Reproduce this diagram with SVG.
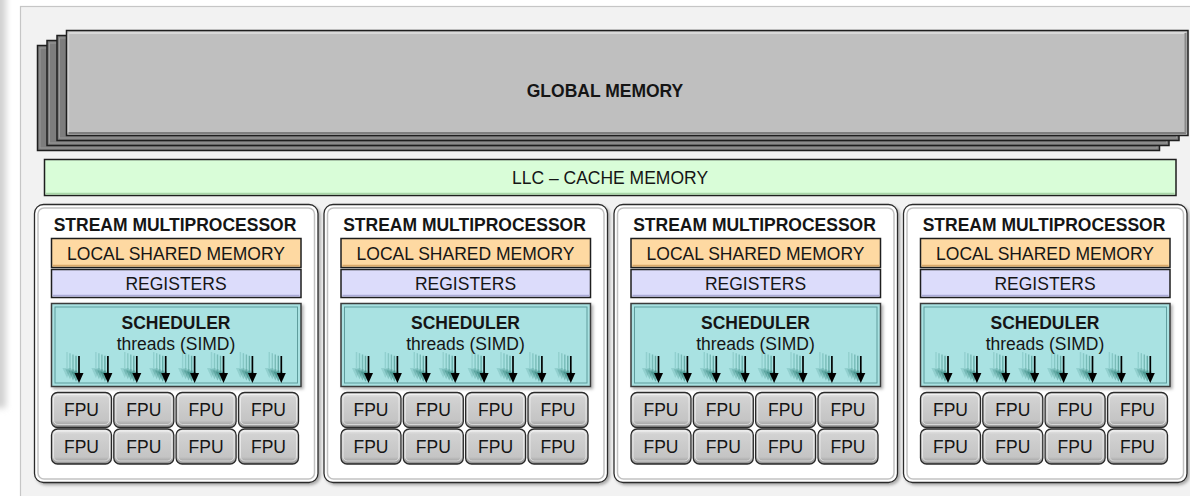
<svg xmlns="http://www.w3.org/2000/svg" xmlns:xlink="http://www.w3.org/1999/xlink" width="1190" height="496" viewBox="0 0 1190 496">
  <defs>
    <style>
      .t { font-family: "Liberation Sans", Arial, sans-serif; font-size: 17.5px; fill: #151515; text-anchor: middle; }
      .b { font-weight: bold; }
      .edge { stroke: #1e1e1e; stroke-width: 1.5; }
      .layer { fill: #7d7d7d; stroke: #1e1e1e; stroke-width: 1.5; }
      .sm-out { fill: #ffffff; stroke: #2a2a2a; stroke-width: 1.3; }
      .sm-in { fill: none; stroke: #c2c2c2; stroke-width: 1.5; }
      .lsm { fill: #fed9a2; stroke: #1e1e1e; stroke-width: 1.5; }
      .reg { fill: #dcdcfb; stroke: #1e1e1e; stroke-width: 1.5; }
      .sch { fill: #a9e2e2; stroke: #3a3a3a; stroke-width: 1.5; }
    </style>
    <filter id="soft" x="-50%" y="-50%" width="200%" height="200%">
      <feGaussianBlur stdDeviation="0.6"/>
    </filter>
    <filter id="haze" x="-100%" y="-10%" width="300%" height="120%">
      <feGaussianBlur stdDeviation="3"/>
    </filter>
    <filter id="shadow" x="-5%" y="-5%" width="110%" height="115%">
      <feDropShadow dx="2" dy="2" stdDeviation="1.5" flood-color="#000" flood-opacity="0.3"/>
    </filter>
    <linearGradient id="fpuG" x1="0" y1="0" x2="0" y2="1">
      <stop offset="0" stop-color="#ececec"/>
      <stop offset="0.15" stop-color="#d2d2d2"/>
      <stop offset="0.8" stop-color="#c4c4c4"/>
      <stop offset="1" stop-color="#8e8e8e"/>
    </linearGradient>
    <!-- one thread arrow with its motion trail; tip at the origin -->
    <g id="arr">
      <g filter="url(#soft)" stroke="#2f8078" fill="#2f8078" stroke-width="1.4">
        <g opacity="0.18" transform="translate(-12,-5)"><path d="M0,-26 V-8" fill="none"/><path d="M-4.5,-10 L4.5,-10 L0,0Z" stroke="none"/></g>
        <g opacity="0.28" transform="translate(-9,-3.8)"><path d="M0,-26 V-8" fill="none"/><path d="M-4.5,-10 L4.5,-10 L0,0Z" stroke="none"/></g>
        <g opacity="0.4" transform="translate(-6,-2.5)"><path d="M0,-26 V-8" fill="none"/><path d="M-4.5,-10 L4.5,-10 L0,0Z" stroke="none"/></g>
        <g opacity="0.55" transform="translate(-3,-1.2)"><path d="M0,-26 V-8" fill="none"/><path d="M-4.5,-10 L4.5,-10 L0,0Z" stroke="none"/></g>
      </g>
      <path d="M0,-27 V-8" stroke="#000" stroke-width="1.7"/>
      <path d="M-4.5,-10 L4.5,-10 L0,0Z" fill="#000"/>
    </g>
    <g id="arrowRow">
      <use xlink:href="#arr" x="79" y="383"/>
      <use xlink:href="#arr" x="107.9" y="383"/>
      <use xlink:href="#arr" x="136.8" y="383"/>
      <use xlink:href="#arr" x="165.7" y="383"/>
      <use xlink:href="#arr" x="194.6" y="383"/>
      <use xlink:href="#arr" x="223.5" y="383"/>
      <use xlink:href="#arr" x="252.4" y="383"/>
      <use xlink:href="#arr" x="281.3" y="383"/>
    </g>
    <!-- bevelled FPU cell -->
    <g id="fpu">
      <rect x="0.5" y="0.5" width="60" height="35" rx="6" fill="url(#fpuG)" stroke="#2a2a2a" stroke-width="1.3"/>
      <rect x="2.5" y="2.5" width="56" height="30" rx="4.5" fill="none" stroke="#ffffff" stroke-opacity="0.55"/>
    </g>
    <g id="fpuGrid">
      <use xlink:href="#fpu" x="51" y="392"/>
      <use xlink:href="#fpu" x="113.3" y="392"/>
      <use xlink:href="#fpu" x="175.6" y="392"/>
      <use xlink:href="#fpu" x="238" y="392"/>
      <use xlink:href="#fpu" x="51" y="428.5"/>
      <use xlink:href="#fpu" x="113.3" y="428.5"/>
      <use xlink:href="#fpu" x="175.6" y="428.5"/>
      <use xlink:href="#fpu" x="238" y="428.5"/>
    </g>
  </defs>

  <rect width="1190" height="496" fill="#ffffff"/>
  <!-- soft grey strip on the far left -->
  <rect x="-8" y="-10" width="14" height="418" fill="#d2d2d2" filter="url(#haze)"/>
  <!-- background panel -->
  <rect x="20.5" y="6.5" width="1190" height="500" fill="#f2f2f2" stroke="#c6c6c6" stroke-width="1.2"/>

  <!-- global memory: stacked banks -->
  <g id="global-memory">
    <rect class="layer" x="37.5" y="45.5" width="1122" height="105"/>
    <rect x="40" y="48" width="1117" height="100" fill="none" stroke="#9a9a9a" stroke-width="1"/>
    <rect class="layer" x="47" y="40.5" width="1122" height="105"/>
    <rect x="49.5" y="43" width="1117" height="100" fill="none" stroke="#9a9a9a" stroke-width="1"/>
    <rect class="layer" x="57" y="35.5" width="1122" height="105"/>
    <rect x="59.5" y="38" width="1117" height="100" fill="none" stroke="#9a9a9a" stroke-width="1"/>
    <rect x="66.5" y="30.5" width="1121.5" height="105" fill="#bfbfbf" class="edge"/>
    <path d="M68.5,33 H1185.5" stroke="#d8d8d8" stroke-width="2.2"/>
    <path d="M68.5,33 V133" stroke="#cfcfcf" stroke-width="1.5"/>
    <path d="M68.5,133 H1186" stroke="#7e7e7e" stroke-width="2.2"/>
    <path d="M1185.5,33 V133" stroke="#8a8a8a" stroke-width="2"/>
    <text class="t b" x="605" y="97">GLOBAL MEMORY</text>
  </g>

  <!-- last level cache -->
  <g id="llc">
    <rect x="44.5" y="159.5" width="1131.5" height="36" fill="#d9fdd8" class="edge"/>
    <path d="M46,193.5 H1174.5" stroke="#a9d5a8" stroke-width="1.5"/>
    <text class="t" x="610" y="184">LLC – CACHE MEMORY</text>
  </g>

  <!-- stream multiprocessors -->
  <g id="sm-1">
    <rect class="sm-out" x="34.5" y="204.5" width="283.5" height="278" rx="9" filter="url(#shadow)"/>
    <rect class="sm-in" x="38" y="208" width="276.5" height="271" rx="6"/>
    <text class="t b" x="175" y="231">STREAM MULTIPROCESSOR</text>
    <rect class="lsm" x="51.5" y="238.5" width="249.5" height="29"/>
    <path d="M53,265.5 H299.5" stroke="#d9a868" stroke-width="1.5"/>
    <text class="t" x="176" y="259.5">LOCAL SHARED MEMORY</text>
    <rect class="reg" x="51.5" y="269.5" width="249.5" height="28"/>
    <path d="M53,295.5 H299.5" stroke="#aaaad6" stroke-width="1.5"/>
    <text class="t" x="176" y="289.5">REGISTERS</text>
    <rect class="sch" x="51.5" y="303.5" width="249.5" height="83" filter="url(#shadow)"/>
    <rect x="55" y="307" width="242.5" height="76" fill="none" stroke="#5f9d9d" stroke-width="1"/>
    <text class="t b" x="176" y="328.5">SCHEDULER</text>
    <text class="t" x="176" y="349.5">threads (SIMD)</text>
    <use xlink:href="#arrowRow"/>
    <use xlink:href="#fpuGrid"/>
    <text class="t" x="81.5" y="416">FPU</text><text class="t" x="143.8" y="416">FPU</text><text class="t" x="206.1" y="416">FPU</text><text class="t" x="268.5" y="416">FPU</text>
    <text class="t" x="81.5" y="452.5">FPU</text><text class="t" x="143.8" y="452.5">FPU</text><text class="t" x="206.1" y="452.5">FPU</text><text class="t" x="268.5" y="452.5">FPU</text>
  </g>

  <g id="sm-2" transform="translate(289.5,0)">
    <rect class="sm-out" x="34.5" y="204.5" width="283.5" height="278" rx="9" filter="url(#shadow)"/>
    <rect class="sm-in" x="38" y="208" width="276.5" height="271" rx="6"/>
    <text class="t b" x="175" y="231">STREAM MULTIPROCESSOR</text>
    <rect class="lsm" x="51.5" y="238.5" width="249.5" height="29"/>
    <path d="M53,265.5 H299.5" stroke="#d9a868" stroke-width="1.5"/>
    <text class="t" x="176" y="259.5">LOCAL SHARED MEMORY</text>
    <rect class="reg" x="51.5" y="269.5" width="249.5" height="28"/>
    <path d="M53,295.5 H299.5" stroke="#aaaad6" stroke-width="1.5"/>
    <text class="t" x="176" y="289.5">REGISTERS</text>
    <rect class="sch" x="51.5" y="303.5" width="249.5" height="83" filter="url(#shadow)"/>
    <rect x="55" y="307" width="242.5" height="76" fill="none" stroke="#5f9d9d" stroke-width="1"/>
    <text class="t b" x="176" y="328.5">SCHEDULER</text>
    <text class="t" x="176" y="349.5">threads (SIMD)</text>
    <use xlink:href="#arrowRow"/>
    <use xlink:href="#fpuGrid"/>
    <text class="t" x="81.5" y="416">FPU</text><text class="t" x="143.8" y="416">FPU</text><text class="t" x="206.1" y="416">FPU</text><text class="t" x="268.5" y="416">FPU</text>
    <text class="t" x="81.5" y="452.5">FPU</text><text class="t" x="143.8" y="452.5">FPU</text><text class="t" x="206.1" y="452.5">FPU</text><text class="t" x="268.5" y="452.5">FPU</text>
  </g>

  <g id="sm-3" transform="translate(579.5,0)">
    <rect class="sm-out" x="34.5" y="204.5" width="283.5" height="278" rx="9" filter="url(#shadow)"/>
    <rect class="sm-in" x="38" y="208" width="276.5" height="271" rx="6"/>
    <text class="t b" x="175" y="231">STREAM MULTIPROCESSOR</text>
    <rect class="lsm" x="51.5" y="238.5" width="249.5" height="29"/>
    <path d="M53,265.5 H299.5" stroke="#d9a868" stroke-width="1.5"/>
    <text class="t" x="176" y="259.5">LOCAL SHARED MEMORY</text>
    <rect class="reg" x="51.5" y="269.5" width="249.5" height="28"/>
    <path d="M53,295.5 H299.5" stroke="#aaaad6" stroke-width="1.5"/>
    <text class="t" x="176" y="289.5">REGISTERS</text>
    <rect class="sch" x="51.5" y="303.5" width="249.5" height="83" filter="url(#shadow)"/>
    <rect x="55" y="307" width="242.5" height="76" fill="none" stroke="#5f9d9d" stroke-width="1"/>
    <text class="t b" x="176" y="328.5">SCHEDULER</text>
    <text class="t" x="176" y="349.5">threads (SIMD)</text>
    <use xlink:href="#arrowRow"/>
    <use xlink:href="#fpuGrid"/>
    <text class="t" x="81.5" y="416">FPU</text><text class="t" x="143.8" y="416">FPU</text><text class="t" x="206.1" y="416">FPU</text><text class="t" x="268.5" y="416">FPU</text>
    <text class="t" x="81.5" y="452.5">FPU</text><text class="t" x="143.8" y="452.5">FPU</text><text class="t" x="206.1" y="452.5">FPU</text><text class="t" x="268.5" y="452.5">FPU</text>
  </g>

  <g id="sm-4" transform="translate(869,0)">
    <rect class="sm-out" x="34.5" y="204.5" width="283.5" height="278" rx="9" filter="url(#shadow)"/>
    <rect class="sm-in" x="38" y="208" width="276.5" height="271" rx="6"/>
    <text class="t b" x="175" y="231">STREAM MULTIPROCESSOR</text>
    <rect class="lsm" x="51.5" y="238.5" width="249.5" height="29"/>
    <path d="M53,265.5 H299.5" stroke="#d9a868" stroke-width="1.5"/>
    <text class="t" x="176" y="259.5">LOCAL SHARED MEMORY</text>
    <rect class="reg" x="51.5" y="269.5" width="249.5" height="28"/>
    <path d="M53,295.5 H299.5" stroke="#aaaad6" stroke-width="1.5"/>
    <text class="t" x="176" y="289.5">REGISTERS</text>
    <rect class="sch" x="51.5" y="303.5" width="249.5" height="83" filter="url(#shadow)"/>
    <rect x="55" y="307" width="242.5" height="76" fill="none" stroke="#5f9d9d" stroke-width="1"/>
    <text class="t b" x="176" y="328.5">SCHEDULER</text>
    <text class="t" x="176" y="349.5">threads (SIMD)</text>
    <use xlink:href="#arrowRow"/>
    <use xlink:href="#fpuGrid"/>
    <text class="t" x="81.5" y="416">FPU</text><text class="t" x="143.8" y="416">FPU</text><text class="t" x="206.1" y="416">FPU</text><text class="t" x="268.5" y="416">FPU</text>
    <text class="t" x="81.5" y="452.5">FPU</text><text class="t" x="143.8" y="452.5">FPU</text><text class="t" x="206.1" y="452.5">FPU</text><text class="t" x="268.5" y="452.5">FPU</text>
  </g>

  <!-- no connectors between blocks; group kept for structure -->
  <g id="connectors"/>
</svg>
